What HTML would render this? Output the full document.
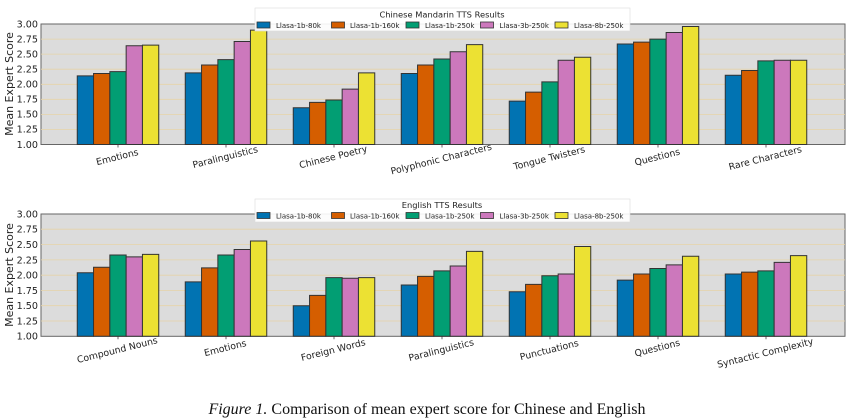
<!DOCTYPE html>
<html><head><meta charset="utf-8"><style>
html,body{margin:0;padding:0;background:#fff;width:850px;height:420px;overflow:hidden}
svg{display:block}
text{font-family:"DejaVu Sans","Liberation Sans",sans-serif;fill:#222}
.t{font-size:9.6px}
.xl{font-size:9.3px}
.lg{font-size:7px}
rect.b{stroke:#333;stroke-width:1;vector-effect:non-scaling-stroke}
.c0{fill:#0173b2}.c1{fill:#d55e00}.c2{fill:#029e73}.c3{fill:#cc78bc}.c4{fill:#ece133}
</style></head><body>
<svg width="850" height="420" viewBox="0 0 850 420" xmlns="http://www.w3.org/2000/svg">
<!-- TOP CHART -->
<rect x="41" y="24" width="804" height="120.5" fill="#dcdcdc" stroke="#666" stroke-width="1"/>
<g stroke="#e6d3a8" stroke-width="0.8">
<line x1="41" x2="845" y1="39.1" y2="39.1"/><line x1="41" x2="845" y1="54.1" y2="54.1"/><line x1="41" x2="845" y1="69.2" y2="69.2"/><line x1="41" x2="845" y1="84.3" y2="84.3"/><line x1="41" x2="845" y1="99.3" y2="99.3"/><line x1="41" x2="845" y1="114.4" y2="114.4"/><line x1="41" x2="845" y1="129.4" y2="129.4"/>
</g>
<g stroke="#444" stroke-width="0.8">
<line x1="118" x2="118" y1="144.5" y2="147.5"/><line x1="226" x2="226" y1="144.5" y2="147.5"/><line x1="334" x2="334" y1="144.5" y2="147.5"/><line x1="442" x2="442" y1="144.5" y2="147.5"/><line x1="550" x2="550" y1="144.5" y2="147.5"/><line x1="658" x2="658" y1="144.5" y2="147.5"/><line x1="766" x2="766" y1="144.5" y2="147.5"/>
</g>
<g class="t" text-anchor="end">
<text x="38" y="27.5">3.00</text><text x="38" y="42.5">2.75</text><text x="38" y="57.5">2.50</text><text x="38" y="72.5">2.25</text><text x="38" y="87.5">2.00</text><text x="38" y="102.5">1.75</text><text x="38" y="117.5">1.50</text><text x="38" y="132.5">1.25</text><text x="38" y="148">1.00</text>
</g>
<text x="13" y="84" font-size="11" text-anchor="middle" transform="rotate(-90 13 84)">Mean Expert Score</text>
<g transform="translate(0,144.5) scale(1,-60.2)">
<g transform="translate(77.25,0)"><rect class="b c0" x="0" y="0" width="16.3" height="1.14"/><rect class="b c1" x="16.3" y="0" width="16.3" height="1.18"/><rect class="b c2" x="32.6" y="0" width="16.3" height="1.21"/><rect class="b c3" x="48.9" y="0" width="16.3" height="1.64"/><rect class="b c4" x="65.2" y="0" width="16.3" height="1.65"/></g>
<g transform="translate(185.25,0)"><rect class="b c0" x="0" y="0" width="16.3" height="1.19"/><rect class="b c1" x="16.3" y="0" width="16.3" height="1.32"/><rect class="b c2" x="32.6" y="0" width="16.3" height="1.41"/><rect class="b c3" x="48.9" y="0" width="16.3" height="1.71"/><rect class="b c4" x="65.2" y="0" width="16.3" height="1.90"/></g>
<g transform="translate(293.25,0)"><rect class="b c0" x="0" y="0" width="16.3" height="0.61"/><rect class="b c1" x="16.3" y="0" width="16.3" height="0.70"/><rect class="b c2" x="32.6" y="0" width="16.3" height="0.74"/><rect class="b c3" x="48.9" y="0" width="16.3" height="0.92"/><rect class="b c4" x="65.2" y="0" width="16.3" height="1.19"/></g>
<g transform="translate(401.25,0)"><rect class="b c0" x="0" y="0" width="16.3" height="1.18"/><rect class="b c1" x="16.3" y="0" width="16.3" height="1.32"/><rect class="b c2" x="32.6" y="0" width="16.3" height="1.42"/><rect class="b c3" x="48.9" y="0" width="16.3" height="1.54"/><rect class="b c4" x="65.2" y="0" width="16.3" height="1.66"/></g>
<g transform="translate(509.25,0)"><rect class="b c0" x="0" y="0" width="16.3" height="0.72"/><rect class="b c1" x="16.3" y="0" width="16.3" height="0.87"/><rect class="b c2" x="32.6" y="0" width="16.3" height="1.04"/><rect class="b c3" x="48.9" y="0" width="16.3" height="1.40"/><rect class="b c4" x="65.2" y="0" width="16.3" height="1.45"/></g>
<g transform="translate(617.25,0)"><rect class="b c0" x="0" y="0" width="16.3" height="1.67"/><rect class="b c1" x="16.3" y="0" width="16.3" height="1.70"/><rect class="b c2" x="32.6" y="0" width="16.3" height="1.75"/><rect class="b c3" x="48.9" y="0" width="16.3" height="1.86"/><rect class="b c4" x="65.2" y="0" width="16.3" height="1.96"/></g>
<g transform="translate(725.25,0)"><rect class="b c0" x="0" y="0" width="16.3" height="1.15"/><rect class="b c1" x="16.3" y="0" width="16.3" height="1.23"/><rect class="b c2" x="32.6" y="0" width="16.3" height="1.39"/><rect class="b c3" x="48.9" y="0" width="16.3" height="1.40"/><rect class="b c4" x="65.2" y="0" width="16.3" height="1.40"/></g>
</g>
<g class="xl" text-anchor="middle">
<text transform="translate(118,160) rotate(-14)">Emotions</text>
<text transform="translate(226,160) rotate(-14)">Paralinguistics</text>
<text transform="translate(334,160) rotate(-14)">Chinese Poetry</text>
<text transform="translate(442,162) rotate(-14)">Polyphonic Characters</text>
<text transform="translate(550,161) rotate(-14)">Tongue Twisters</text>
<text transform="translate(658,160) rotate(-14)">Questions</text>
<text transform="translate(766,161) rotate(-14)">Rare Characters</text>
</g>
<!-- top legend -->
<rect x="255" y="8" width="375" height="23" fill="#fff" fill-opacity="0.9" stroke="#ddd" stroke-width="0.6"/>
<text x="442" y="17.5" font-size="8.3" text-anchor="middle">Chinese Mandarin TTS Results</text>
<g class="lg">
<rect class="c0" x="257" y="22" width="13" height="6" stroke="#333" stroke-width="0.8"/><text x="276" y="28">Llasa-1b-80k</text>
<rect class="c1" x="331.5" y="22" width="13" height="6" stroke="#333" stroke-width="0.8"/><text x="350" y="28">Llasa-1b-160k</text>
<rect class="c2" x="406" y="22" width="13" height="6" stroke="#333" stroke-width="0.8"/><text x="425" y="28">Llasa-1b-250k</text>
<rect class="c3" x="480.5" y="22" width="13" height="6" stroke="#333" stroke-width="0.8"/><text x="499.5" y="28">Llasa-3b-250k</text>
<rect class="c4" x="555" y="22" width="13" height="6" stroke="#333" stroke-width="0.8"/><text x="574" y="28">Llasa-8b-250k</text>
</g>

<!-- BOTTOM CHART -->
<rect x="41" y="214" width="804" height="122.3" fill="#dcdcdc" stroke="#666" stroke-width="1"/>
<g stroke="#e6d3a8" stroke-width="0.8">
<line x1="41" x2="845" y1="229.2" y2="229.2"/><line x1="41" x2="845" y1="244.6" y2="244.6"/><line x1="41" x2="845" y1="259.9" y2="259.9"/><line x1="41" x2="845" y1="275.2" y2="275.2"/><line x1="41" x2="845" y1="290.5" y2="290.5"/><line x1="41" x2="845" y1="305.7" y2="305.7"/><line x1="41" x2="845" y1="321" y2="321"/>
</g>
<g stroke="#444" stroke-width="0.8">
<line x1="118" x2="118" y1="336.3" y2="339.3"/><line x1="226" x2="226" y1="336.3" y2="339.3"/><line x1="334" x2="334" y1="336.3" y2="339.3"/><line x1="442" x2="442" y1="336.3" y2="339.3"/><line x1="550" x2="550" y1="336.3" y2="339.3"/><line x1="658" x2="658" y1="336.3" y2="339.3"/><line x1="766" x2="766" y1="336.3" y2="339.3"/>
</g>
<g class="t" text-anchor="end">
<text x="38" y="217.5">3.00</text><text x="38" y="232.7">2.75</text><text x="38" y="248">2.50</text><text x="38" y="263.3">2.25</text><text x="38" y="278.6">2.00</text><text x="38" y="293.9">1.75</text><text x="38" y="309.1">1.50</text><text x="38" y="324.4">1.25</text><text x="38" y="339.7">1.00</text>
</g>
<text x="13" y="275" font-size="11" text-anchor="middle" transform="rotate(-90 13 275)">Mean Expert Score</text>
<g transform="translate(0,336.3) scale(1,-61.1)">
<g transform="translate(77.25,0)"><rect class="b c0" x="0" y="0" width="16.3" height="1.04"/><rect class="b c1" x="16.3" y="0" width="16.3" height="1.13"/><rect class="b c2" x="32.6" y="0" width="16.3" height="1.33"/><rect class="b c3" x="48.9" y="0" width="16.3" height="1.30"/><rect class="b c4" x="65.2" y="0" width="16.3" height="1.34"/></g>
<g transform="translate(185.25,0)"><rect class="b c0" x="0" y="0" width="16.3" height="0.89"/><rect class="b c1" x="16.3" y="0" width="16.3" height="1.12"/><rect class="b c2" x="32.6" y="0" width="16.3" height="1.33"/><rect class="b c3" x="48.9" y="0" width="16.3" height="1.42"/><rect class="b c4" x="65.2" y="0" width="16.3" height="1.56"/></g>
<g transform="translate(293.25,0)"><rect class="b c0" x="0" y="0" width="16.3" height="0.50"/><rect class="b c1" x="16.3" y="0" width="16.3" height="0.67"/><rect class="b c2" x="32.6" y="0" width="16.3" height="0.96"/><rect class="b c3" x="48.9" y="0" width="16.3" height="0.95"/><rect class="b c4" x="65.2" y="0" width="16.3" height="0.96"/></g>
<g transform="translate(401.25,0)"><rect class="b c0" x="0" y="0" width="16.3" height="0.84"/><rect class="b c1" x="16.3" y="0" width="16.3" height="0.98"/><rect class="b c2" x="32.6" y="0" width="16.3" height="1.07"/><rect class="b c3" x="48.9" y="0" width="16.3" height="1.15"/><rect class="b c4" x="65.2" y="0" width="16.3" height="1.39"/></g>
<g transform="translate(509.25,0)"><rect class="b c0" x="0" y="0" width="16.3" height="0.73"/><rect class="b c1" x="16.3" y="0" width="16.3" height="0.85"/><rect class="b c2" x="32.6" y="0" width="16.3" height="0.99"/><rect class="b c3" x="48.9" y="0" width="16.3" height="1.02"/><rect class="b c4" x="65.2" y="0" width="16.3" height="1.47"/></g>
<g transform="translate(617.25,0)"><rect class="b c0" x="0" y="0" width="16.3" height="0.92"/><rect class="b c1" x="16.3" y="0" width="16.3" height="1.02"/><rect class="b c2" x="32.6" y="0" width="16.3" height="1.11"/><rect class="b c3" x="48.9" y="0" width="16.3" height="1.17"/><rect class="b c4" x="65.2" y="0" width="16.3" height="1.31"/></g>
<g transform="translate(725.25,0)"><rect class="b c0" x="0" y="0" width="16.3" height="1.02"/><rect class="b c1" x="16.3" y="0" width="16.3" height="1.05"/><rect class="b c2" x="32.6" y="0" width="16.3" height="1.07"/><rect class="b c3" x="48.9" y="0" width="16.3" height="1.21"/><rect class="b c4" x="65.2" y="0" width="16.3" height="1.32"/></g>
</g>
<g class="xl" text-anchor="middle">
<text transform="translate(118,353) rotate(-14)">Compound Nouns</text>
<text transform="translate(226,351) rotate(-14)">Emotions</text>
<text transform="translate(334,353) rotate(-14)">Foreign Words</text>
<text transform="translate(442,353) rotate(-14)">Paralinguistics</text>
<text transform="translate(550,353) rotate(-14)">Punctuations</text>
<text transform="translate(658,351) rotate(-14)">Questions</text>
<text transform="translate(766,356) rotate(-14)">Syntactic Complexity</text>
</g>
<!-- bottom legend -->
<rect x="255" y="199" width="375" height="23" fill="#fff" fill-opacity="0.9" stroke="#ddd" stroke-width="0.6"/>
<text x="442" y="208" font-size="8.3" text-anchor="middle">English TTS Results</text>
<g class="lg">
<rect class="c0" x="257" y="212.5" width="13" height="6" stroke="#333" stroke-width="0.8"/><text x="276" y="218.5">Llasa-1b-80k</text>
<rect class="c1" x="331.5" y="212.5" width="13" height="6" stroke="#333" stroke-width="0.8"/><text x="350" y="218.5">Llasa-1b-160k</text>
<rect class="c2" x="406" y="212.5" width="13" height="6" stroke="#333" stroke-width="0.8"/><text x="425" y="218.5">Llasa-1b-250k</text>
<rect class="c3" x="480.5" y="212.5" width="13" height="6" stroke="#333" stroke-width="0.8"/><text x="499.5" y="218.5">Llasa-3b-250k</text>
<rect class="c4" x="555" y="212.5" width="13" height="6" stroke="#333" stroke-width="0.8"/><text x="574" y="218.5">Llasa-8b-250k</text>
</g>
<!-- caption -->
<text x="427" y="414" text-anchor="middle" style="font-family:'Liberation Serif',serif;font-size:16px;fill:#111"><tspan font-style="italic">Figure 1.</tspan> Comparison of mean expert score for Chinese and English</text>
</svg>
</body></html>
